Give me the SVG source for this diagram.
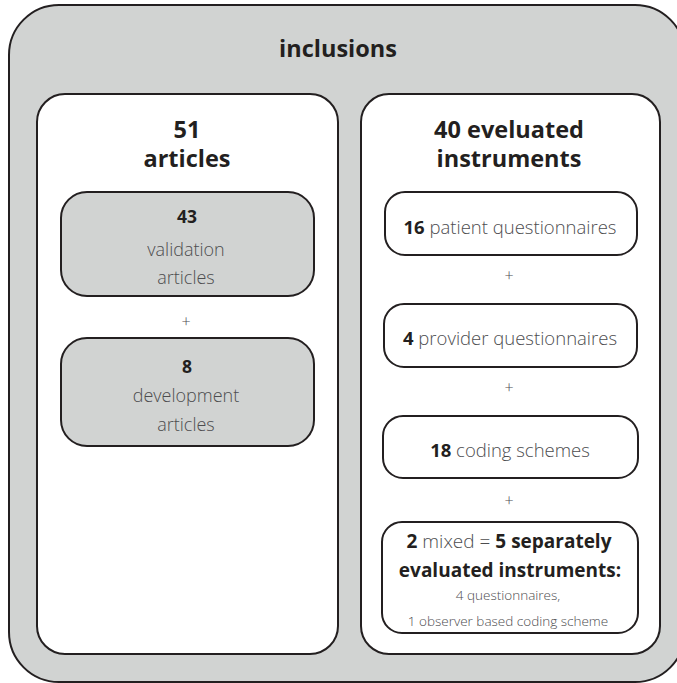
<svg xmlns="http://www.w3.org/2000/svg" width="677" height="683" viewBox="0 0 677 683">
<style>
.frame{fill:#d1d3d2;stroke:#231f20;stroke-width:2}
.panel{fill:#ffffff;stroke:#231f20;stroke-width:2}
.gbox{fill:#d1d3d2;stroke:#231f20;stroke-width:2}
.wbox{fill:#ffffff;stroke:#231f20;stroke-width:2}
text{font-family:"Open Sans","Noto Sans","Liberation Sans",sans-serif;text-anchor:middle}
.title{font-weight:bold;font-size:23.5px;fill:#231f20}
.b{font-weight:bold;fill:#231f20}
.r{fill:#4d4d4f;font-weight:300}
.plus{font-size:16px;fill:#4d4d4f;font-weight:300}
</style>
<rect id="inclusions" class="frame" x="9" y="5" width="676" height="677" rx="50" ry="50"/>
<text class="title" x="338" y="57">inclusions</text>

<g id="articles-panel">
<rect class="panel" x="37" y="94" width="301" height="560" rx="28" ry="28"/>
<text class="title" x="187" y="138">51</text>
<text class="title" x="187" y="167">articles</text>
</g>
<g id="validation">
<rect class="gbox" x="61" y="192" width="253" height="104" rx="26" ry="26"/>
<text class="b" font-size="17.5" x="187" y="223">43</text>
<text class="r" font-size="18" x="186" y="256">validation</text>
<text class="r" font-size="18" x="186" y="284">articles</text>
</g>
<g id="development">
<rect class="gbox" x="61" y="338" width="253" height="108" rx="26" ry="26"/>
<text class="b" font-size="17.5" x="187" y="373">8</text>
<text class="r" font-size="18" x="186" y="402">development</text>
<text class="r" font-size="18" x="186" y="431">articles</text>
</g>

<g id="instruments-panel">
<rect class="panel" x="361" y="94" width="299" height="560" rx="28" ry="28"/>
<text class="title" x="509" y="138">40 eveluated</text>
<text class="title" x="509" y="167">instruments</text>
</g>
<g id="patient">
<rect class="wbox" x="385" y="192" width="252" height="63" rx="20" ry="20"/>
<text font-size="18.5" x="510" y="234"><tspan class="b">16</tspan><tspan class="r"> patient questionnaires</tspan></text>
</g>
<g id="provider">
<rect class="wbox" x="384" y="304" width="253" height="63" rx="20" ry="20"/>
<text font-size="18.5" x="510" y="345"><tspan class="b">4</tspan><tspan class="r"> provider questionnaires</tspan></text>
</g>
<g id="coding">
<rect class="wbox" x="383" y="416" width="255" height="62" rx="20" ry="20"/>
<text font-size="18.5" x="510" y="457"><tspan class="b">18</tspan><tspan class="r"> coding schemes</tspan></text>
</g>
<g id="mixed">
<rect class="wbox" x="382" y="522" width="256" height="111" rx="20" ry="20"/>
<text font-size="19" x="509" y="548"><tspan class="b">2</tspan><tspan class="r"> mixed = </tspan><tspan class="b">5 separately</tspan></text>
<text class="b" font-size="19" x="510" y="577">evaluated instruments:</text>
<text class="r" font-size="13.5" x="508" y="600">4 questionnaires,</text>
<text class="r" font-size="13.5" x="508" y="626">1 observer based coding scheme</text>
</g>

<g id="connectors">
<text class="plus" x="186" y="327">+</text>
<text class="plus" x="509" y="281">+</text>
<text class="plus" x="509" y="393">+</text>
<text class="plus" x="509" y="506">+</text>
</g>
</svg>
